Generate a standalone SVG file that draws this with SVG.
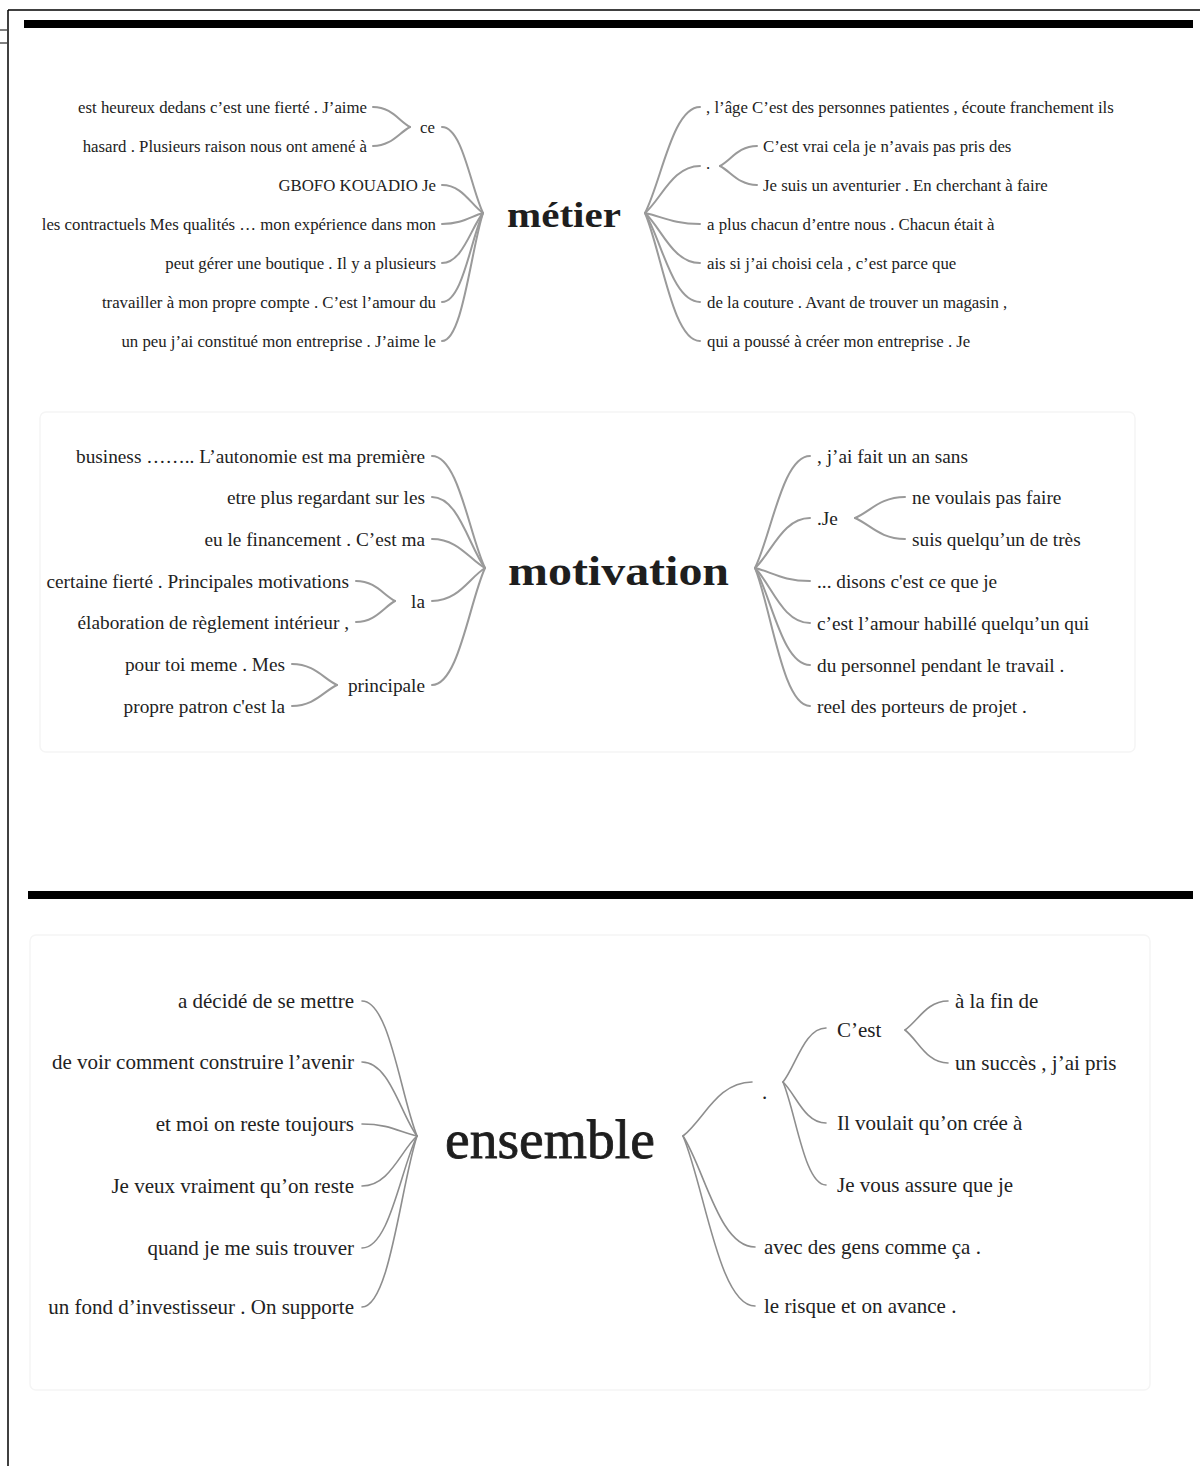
<svg xmlns="http://www.w3.org/2000/svg" width="1200" height="1466" viewBox="0 0 1200 1466">
<style>
.s1{font-family:"Liberation Serif","Times New Roman",serif;font-size:16.8px;fill:#222;dominant-baseline:central}
.s2{font-family:"Liberation Serif","Times New Roman",serif;font-size:19.3px;fill:#222;dominant-baseline:central}
.s3{font-family:"Liberation Serif","Times New Roman",serif;font-size:21px;fill:#222;dominant-baseline:central}
.end{text-anchor:end}
.root{font-family:"Liberation Serif","Times New Roman",serif;fill:#1e1e1e}
.c{fill:none;stroke:#9a9a9a;stroke-width:2;stroke-linecap:round}
.c3{fill:none;stroke:#8e8e8e;stroke-width:1.6;stroke-linecap:round}
.panel{fill:none;stroke:#f5f5f5;stroke-width:1.5}
</style>
<rect x="0" y="0" width="1200" height="1466" fill="#fff"/>
<g id="frame">
<line x1="8" y1="10" x2="8" y2="1466" stroke="#000" stroke-width="1.5"/>
<line x1="8" y1="10" x2="1200" y2="10" stroke="#000" stroke-width="1.5"/>
<line x1="0" y1="30" x2="7" y2="30" stroke="#000" stroke-width="1"/>
<line x1="0" y1="43" x2="7" y2="43" stroke="#000" stroke-width="1"/>
<rect x="24" y="20" width="1169" height="8" fill="#000"/>
<rect x="28" y="891" width="1165" height="8" fill="#000"/>
<rect class="panel" x="40" y="412" width="1095" height="340" rx="6"/>
<rect class="panel" x="30" y="935" width="1120" height="455" rx="6"/>
</g>
<g id="connectors">
<path class="c" d="M373 107 C391.5 107 398.9 121 410 127"/>
<path class="c" d="M373 146 C391.5 146 398.9 132.7 410 127"/>
<path class="c" d="M442 127 C462.5 127 470.7 187.2 483 213"/>
<path class="c" d="M442 185 C462.5 185 470.7 204.6 483 213"/>
<path class="c" d="M442 224 C462.5 224 470.7 216.3 483 213"/>
<path class="c" d="M442 263 C462.5 263 470.7 228 483 213"/>
<path class="c" d="M442 302 C462.5 302 470.7 239.7 483 213"/>
<path class="c" d="M442 341 C462.5 341 470.7 251.4 483 213"/>
<path class="c" d="M645 213 C661.5 181.2 672.5 107 700 107"/>
<path class="c" d="M645 213 C661.5 198.9 672.5 166 700 166"/>
<path class="c" d="M645 213 C661.5 216.3 672.5 224 700 224"/>
<path class="c" d="M645 213 C661.5 228 672.5 263 700 263"/>
<path class="c" d="M645 213 C661.5 239.7 672.5 302 700 302"/>
<path class="c" d="M645 213 C661.5 251.4 672.5 341 700 341"/>
<path class="c" d="M720 166 C731.1 160 738.5 146 757 146"/>
<path class="c" d="M720 166 C731.1 171.7 738.5 185 757 185"/>
<path class="c" d="M432 456 C458.5 456 469.1 534.4 485 568"/>
<path class="c" d="M432 497 C458.5 497 469.1 546.7 485 568"/>
<path class="c" d="M432 539 C458.5 539 469.1 559.3 485 568"/>
<path class="c" d="M432 601 C458.5 601 469.1 577.9 485 568"/>
<path class="c" d="M432 685 C458.5 685 469.1 603.1 485 568"/>
<path class="c" d="M356 581 C375.5 581 383.3 595 395 601"/>
<path class="c" d="M356 622 C375.5 622 383.3 607.3 395 601"/>
<path class="c" d="M292 664 C314.5 664 323.5 678.7 337 685"/>
<path class="c" d="M292 706 C314.5 706 323.5 691.3 337 685"/>
<path class="c" d="M755 568 C771.5 534.4 782.5 456 810 456"/>
<path class="c" d="M755 568 C771.5 553 782.5 518 810 518"/>
<path class="c" d="M755 568 C771.5 571.9 782.5 581 810 581"/>
<path class="c" d="M755 568 C771.5 584.5 782.5 623 810 623"/>
<path class="c" d="M755 568 C771.5 597.1 782.5 665 810 665"/>
<path class="c" d="M755 568 C771.5 609.4 782.5 706 810 706"/>
<path class="c" d="M855 518 C870 511.7 880 497 905 497"/>
<path class="c" d="M855 518 C870 524.3 880 539 905 539"/>
<path class="c3" d="M362 1001 C389.5 1001 400.5 1095.5 417 1136"/>
<path class="c3" d="M362 1062 C389.5 1062 400.5 1113.8 417 1136"/>
<path class="c3" d="M362 1124 C389.5 1124 400.5 1132.4 417 1136"/>
<path class="c3" d="M362 1186 C389.5 1186 400.5 1151 417 1136"/>
<path class="c3" d="M362 1248 C389.5 1248 400.5 1169.6 417 1136"/>
<path class="c3" d="M362 1307 C389.5 1307 400.5 1187.3 417 1136"/>
<path class="c3" d="M683 1136 C703.7 1119.8 717.5 1082 752 1082"/>
<path class="c3" d="M683 1136 C704.6 1169.3 719 1247 755 1247"/>
<path class="c3" d="M683 1136 C704.6 1187 719 1306 755 1306"/>
<path class="c3" d="M783 1082 C795.9 1065.8 804.5 1028 826 1028"/>
<path class="c3" d="M783 1082 C795.9 1094.3 804.5 1123 826 1123"/>
<path class="c3" d="M783 1082 C795.9 1112.9 804.5 1185 826 1185"/>
<path class="c3" d="M905 1030 C917.9 1021.3 926.5 1001 948 1001"/>
<path class="c3" d="M905 1030 C917.9 1039.9 926.5 1063 948 1063"/>
</g>
<g id="metier">
<g id="metier-root"><text class="root" x="507" y="227" font-size="36" font-weight="bold" textLength="114" lengthAdjust="spacingAndGlyphs">métier</text></g>
<g id="m-l1"><text class="s1 end" x="367" y="107">est heureux dedans c’est une fierté . J’aime</text></g>
<g id="m-l2"><text class="s1 end" x="367" y="146">hasard . Plusieurs raison nous ont amené à</text></g>
<g id="m-ce"><text class="s1 end" x="435" y="127">ce</text></g>
<g id="m-l3"><text class="s1 end" x="436" y="185">GBOFO KOUADIO Je</text></g>
<g id="m-l4"><text class="s1 end" x="436" y="224">les contractuels Mes qualités … mon expérience dans mon</text></g>
<g id="m-l5"><text class="s1 end" x="436" y="263">peut gérer une boutique . Il y a plusieurs</text></g>
<g id="m-l6"><text class="s1 end" x="436" y="302">travailler à mon propre compte . C’est l’amour du</text></g>
<g id="m-l7"><text class="s1 end" x="436" y="341">un peu j’ai constitué mon entreprise . J’aime le</text></g>
<g id="m-r1"><text class="s1" x="706" y="107">, l’âge C’est des personnes patientes , écoute franchement ils</text></g>
<g id="m-dot"><text class="s1" x="706" y="163">.</text></g>
<g id="m-r2"><text class="s1" x="763" y="146">C’est vrai cela je n’avais pas pris des</text></g>
<g id="m-r3"><text class="s1" x="763" y="185">Je suis un aventurier . En cherchant à faire</text></g>
<g id="m-r4"><text class="s1" x="707" y="224">a plus chacun d’entre nous . Chacun était à</text></g>
<g id="m-r5"><text class="s1" x="707" y="263">ais si j’ai choisi cela , c’est parce que</text></g>
<g id="m-r6"><text class="s1" x="707" y="302">de la couture . Avant de trouver un magasin ,</text></g>
<g id="m-r7"><text class="s1" x="707" y="341">qui a poussé à créer mon entreprise . Je</text></g>
</g>
<g id="motivation">
<g id="mo-root"><text class="root" x="508" y="585" font-size="42" font-weight="bold" textLength="221" lengthAdjust="spacingAndGlyphs">motivation</text></g>
<g id="mo-l1"><text class="s2 end" x="425" y="456">business …….. L’autonomie est ma première</text></g>
<g id="mo-l2"><text class="s2 end" x="425" y="497">etre plus regardant sur les</text></g>
<g id="mo-l3"><text class="s2 end" x="425" y="539">eu le financement . C’est ma</text></g>
<g id="mo-la"><text class="s2 end" x="425" y="601">la</text></g>
<g id="mo-l4"><text class="s2 end" x="349" y="581">certaine fierté . Principales motivations</text></g>
<g id="mo-l5"><text class="s2 end" x="349" y="622">élaboration de règlement intérieur ,</text></g>
<g id="mo-principale"><text class="s2 end" x="425" y="685">principale</text></g>
<g id="mo-l6"><text class="s2 end" x="285" y="664">pour toi meme . Mes</text></g>
<g id="mo-l7"><text class="s2 end" x="285" y="706">propre patron c'est la</text></g>
<g id="mo-r1"><text class="s2" x="817" y="456">, j’ai fait un an sans</text></g>
<g id="mo-je"><text class="s2" x="817" y="518">.Je</text></g>
<g id="mo-r2"><text class="s2" x="912" y="497">ne voulais pas faire</text></g>
<g id="mo-r3"><text class="s2" x="912" y="539">suis quelqu’un de très</text></g>
<g id="mo-r4"><text class="s2" x="817" y="581">... disons c'est ce que je</text></g>
<g id="mo-r5"><text class="s2" x="817" y="623">c’est l’amour habillé quelqu’un qui</text></g>
<g id="mo-r6"><text class="s2" x="817" y="665">du personnel pendant le travail .</text></g>
<g id="mo-r7"><text class="s2" x="817" y="706">reel des porteurs de projet .</text></g>
</g>
<g id="ensemble">
<g id="en-root"><text class="root" x="445" y="1158" font-size="54" stroke="#1e1e1e" stroke-width="0.8" textLength="210" lengthAdjust="spacingAndGlyphs">ensemble</text></g>
<g id="en-l1"><text class="s3 end" x="354" y="1001">a décidé de se mettre</text></g>
<g id="en-l2"><text class="s3 end" x="354" y="1062">de voir comment construire l’avenir</text></g>
<g id="en-l3"><text class="s3 end" x="354" y="1124">et moi on reste toujours</text></g>
<g id="en-l4"><text class="s3 end" x="354" y="1186">Je veux vraiment qu’on reste</text></g>
<g id="en-l5"><text class="s3 end" x="354" y="1248">quand je me suis trouver</text></g>
<g id="en-l6"><text class="s3 end" x="354" y="1307">un fond d’investisseur . On supporte</text></g>
<g id="en-dot"><text class="s3" x="762" y="1092">.</text></g>
<g id="en-cest"><text class="s3" x="837" y="1030" font-size="25">C’est</text></g>
<g id="en-r1"><text class="s3" x="955" y="1001">à la fin de</text></g>
<g id="en-r2"><text class="s3" x="955" y="1063">un succès , j’ai pris</text></g>
<g id="en-r3"><text class="s3" x="837" y="1123">Il voulait qu’on crée à</text></g>
<g id="en-r4"><text class="s3" x="837" y="1185">Je vous assure que je</text></g>
<g id="en-r5"><text class="s3" x="764" y="1247">avec des gens comme ça .</text></g>
<g id="en-r6"><text class="s3" x="764" y="1306">le risque et on avance .</text></g>
</g>
</svg>
